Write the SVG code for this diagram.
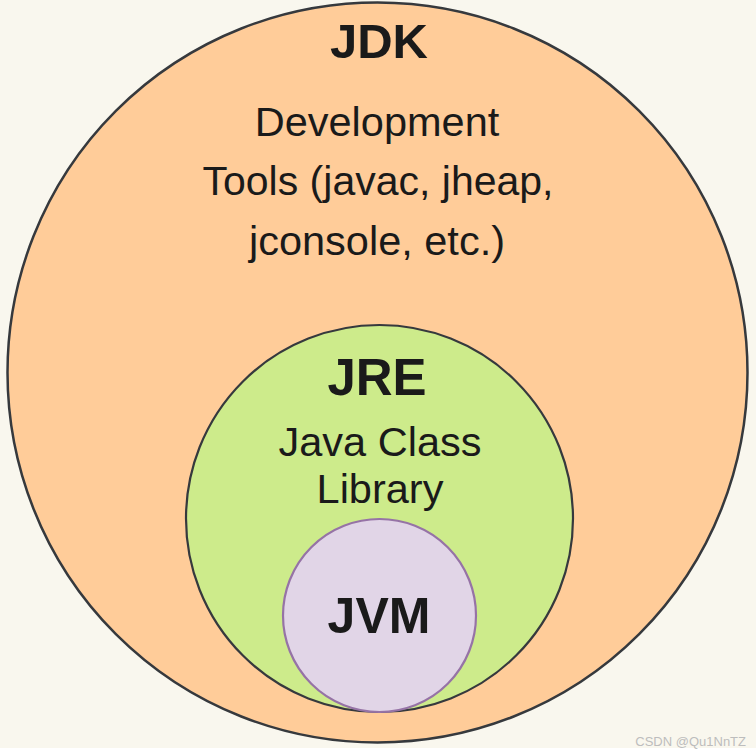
<svg xmlns="http://www.w3.org/2000/svg" width="756" height="756" viewBox="0 0 756 756">
<style>
  .t { font-family: "Liberation Sans", Arial, Helvetica, sans-serif; fill: #1a1a1a; text-anchor: middle; }
  .b { font-weight: bold; }
</style>
<rect x="0" y="0" width="756" height="756" fill="#ffffff"/>
<rect x="0" y="0" width="756" height="748" fill="#f9f7ee"/>
<g id="jdk">
  <circle cx="377.5" cy="372.5" r="370" fill="#ffcc99" stroke="#36393d" stroke-width="2.5"/>
  <text class="t b" x="379" y="58" font-size="49">JDK</text>
  <text class="t" x="377" y="136" font-size="41.5">Development</text>
  <text class="t" x="378" y="195" font-size="41">Tools (javac, jheap,</text>
  <text class="t" x="377" y="255" font-size="41.5">jconsole, etc.)</text>
</g>
<g id="jre">
  <circle cx="379.5" cy="518.5" r="193.5" fill="#cdeb8b" stroke="#36393d" stroke-width="2.2"/>
  <text class="t b" x="377" y="395" font-size="51">JRE</text>
  <text class="t" x="380" y="456" font-size="41.5">Java Class</text>
  <text class="t" x="380" y="503" font-size="41.5">Library</text>
</g>
<g id="jvm">
  <circle cx="379.5" cy="615.5" r="96.5" fill="#e1d5e7" stroke="#9673a6" stroke-width="2.2"/>
  <text class="t b" x="379" y="633" font-size="50">JVM</text>
</g>
<g id="connectors"></g>
<text x="746" y="746" font-family="Liberation Sans, Arial, sans-serif" font-size="13" fill="#bdbdbd" text-anchor="end">CSDN @Qu1NnTZ</text>
</svg>
